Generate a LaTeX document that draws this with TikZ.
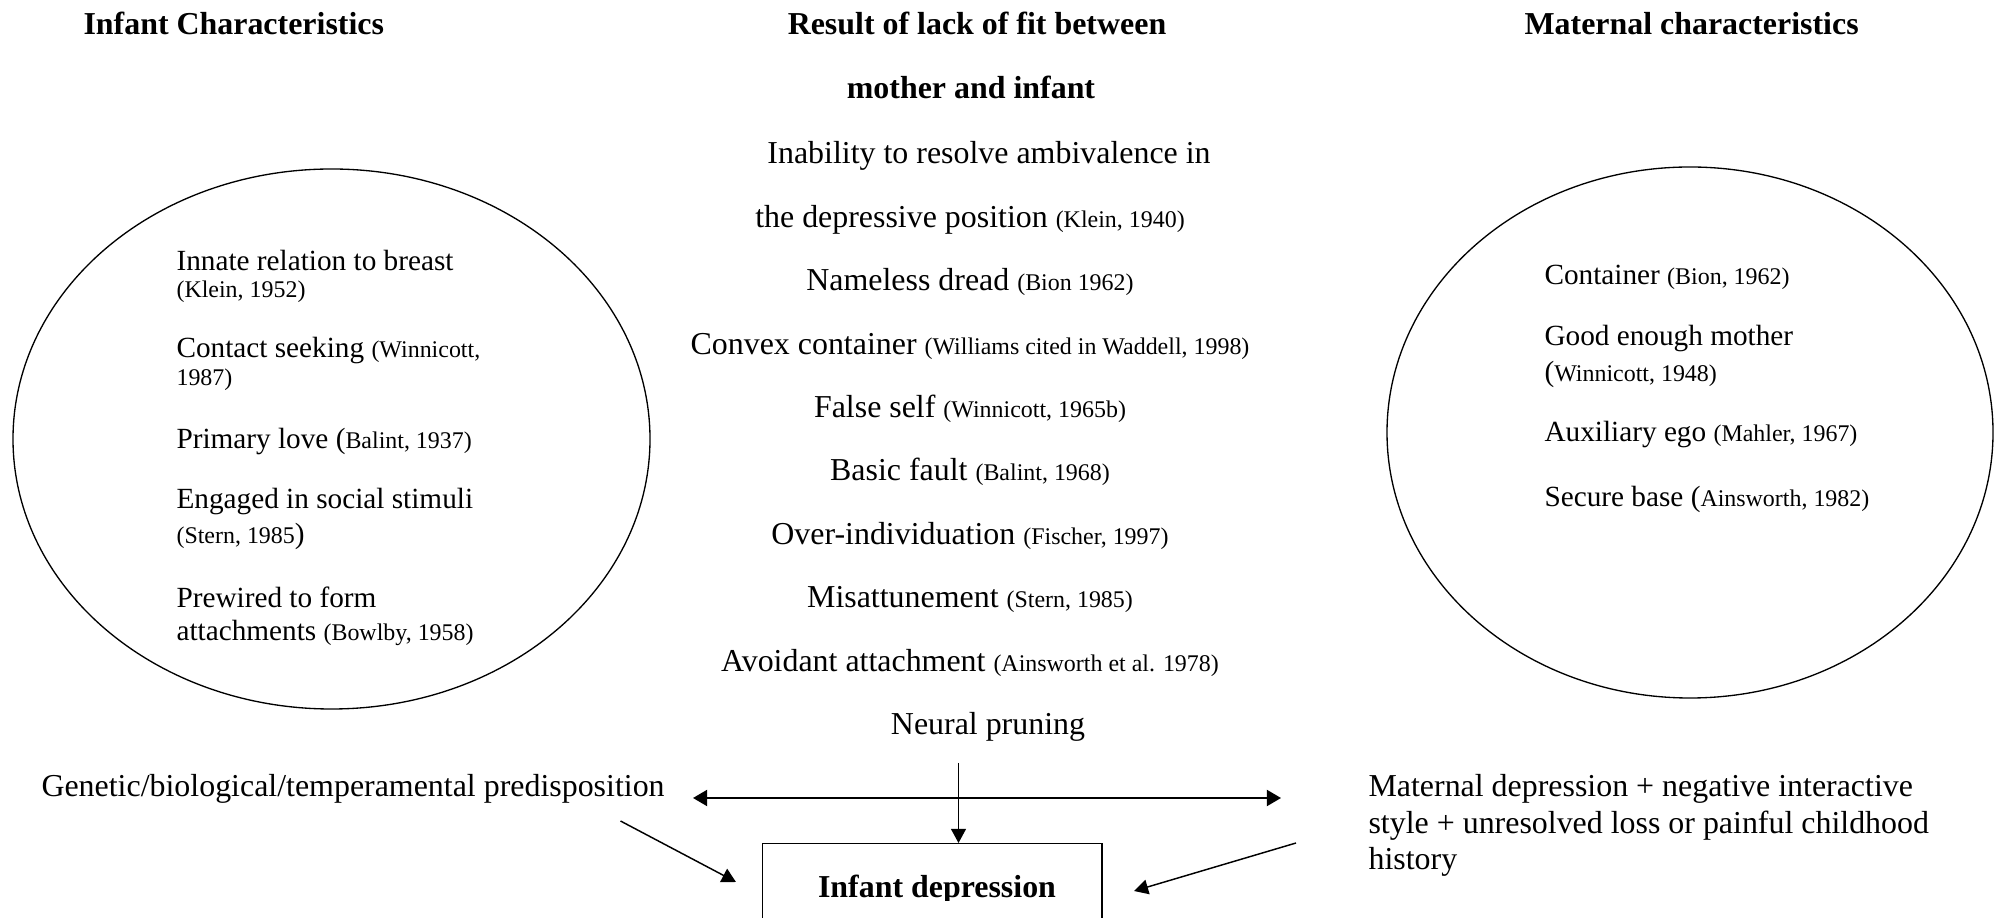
\documentclass[tikz,border=0pt]{standalone}
\usepackage{fontspec}
\setmainfont{Liberation Serif}
\usetikzlibrary{arrows.meta}
\newcommand{\src}[1]{{\fontsize{9}{11}\selectfont #1}}
\tikzset{
txt/.style={font=\fontsize{12}{13.8}\selectfont, inner sep=0pt},
etxt/.style={font=\fontsize{11}{13}\selectfont, inner sep=0pt, anchor=base west},
head/.style={font=\fontsize{12}{13.8}\selectfont\bfseries, inner sep=0pt},
arr/.style={-{Triangle[length=5.3pt,width=5.6pt]}, line width=0.55pt},
dbl/.style={{Triangle[length=5.3pt,width=6pt]}-{Triangle[length=5.3pt,width=6pt]}, line width=0.8pt}
}
\begin{document}
\begin{tikzpicture}[x=0.376pt,y=-0.376pt]
\useasboundingbox (0,0) rectangle (1995,918);
\node(infhead)[head,anchor=base west] at (83,35) {Infant Characteristics};
\node(fithead)[head,anchor=base] at (977,35) {Result of lack of fit between};
\node(fithead2)[head,anchor=base] at (971,99) {mother and infant};
\node(mathead)[head,anchor=base west] at (1524,35) {Maternal characteristics};
\draw[line width=0.5pt] (331.5,439) ellipse [x radius=318.5, y radius=270];
\node(i1)[etxt] at (176,271) {Innate relation to breast};
\node(i1b)[etxt] at (176,298) {\src{(Klein, 1952)}};
\node(i2)[etxt] at (176,358) {Contact seeking \src{(Winnicott,}};
\node(i2b)[etxt] at (176,386) {\src{1987)}};
\node(i3)[etxt] at (176,449) {Primary love (\src{Balint, 1937)}};
\node(i4)[etxt] at (176,509) {Engaged in social stimuli};
\node(i4b)[etxt] at (176,544) {\src{(Stern, 1985})};
\node(i5)[etxt] at (176,608) {Prewired to form};
\node(i5b)[etxt] at (176,641) {attachments \src{(Bowlby, 1958)}};
\node(c1)[txt,anchor=base] at (989,164) {Inability to resolve ambivalence in};
\node(c2)[txt,anchor=base] at (970,227.4) {the depressive position \src{(Klein, 1940)}};
\node(c3)[txt,anchor=base] at (970,290.8) {Nameless dread \src{(Bion 1962)}};
\node(c4)[txt,anchor=base] at (970,354.2) {Convex container \src{(Williams cited in Waddell, 1998)}};
\node(c5)[txt,anchor=base] at (970,417.6) {False self \src{(Winnicott, 1965b)}};
\node(c6)[txt,anchor=base] at (970,481) {Basic fault \src{(Balint, 1968)}};
\node(c7)[txt,anchor=base] at (970,544.4) {Over-individuation \src{(Fischer, 1997)}};
\node(c8)[txt,anchor=base] at (970,607.8) {Misattunement \src{(Stern, 1985)}};
\node(c9)[txt,anchor=base] at (970,671.2) {Avoidant attachment \src{(Ainsworth et al. 1978)}};
\node(c10)[txt,anchor=base] at (988,734.6) {Neural pruning};
\draw[line width=0.5pt] (1690,432.5) ellipse [x radius=303, y radius=265.5];
\node(m1)[etxt] at (1544,285) {Container \src{(Bion, 1962)}};
\node(m2)[etxt] at (1544,346) {Good enough mother};
\node(m2b)[etxt] at (1544,382) {(\src{Winnicott, 1948)}};
\node(m3)[etxt] at (1544,442) {Auxiliary ego \src{(Mahler, 1967)}};
\node(m4)[etxt] at (1544,507) {Secure base (\src{Ainsworth, 1982)}};
\node(gen)[txt,anchor=base west] at (41,797) {Genetic/biological/temperamental predisposition};
\node(mat1)[txt,anchor=base west] at (1368,797) {Maternal depression + negative interactive};
\node(mat2)[txt,anchor=base west] at (1368,834) {style + unresolved loss or painful childhood};
\node(mat3)[txt,anchor=base west] at (1368,870) {history};
\node(box)[draw,line width=0.55pt,anchor=north west,minimum width=127.5pt,minimum height=40pt,inner sep=0pt] at (762,843) {};
\begin{scope}
\clip (762,843) rectangle (1101,900);
\node(dep)[head,anchor=base] at (937,898) {Infant depression};
\end{scope}
\coordinate (gl) at (693,798);
\coordinate (gr) at (1281,798);
\draw[dbl] (gl) -- (gr);
\coordinate (np) at (958.5,763);
\draw[arr] (np) -- (np |- box.north);
\coordinate (ga) at (620.5,821);
\coordinate (gb) at (736,882);
\draw[arr] (ga) -- (gb);
\coordinate (ma) at (1296,843);
\coordinate (mb) at (1134,891);
\draw[arr] (ma) -- (mb);
\end{tikzpicture}
\end{document}
